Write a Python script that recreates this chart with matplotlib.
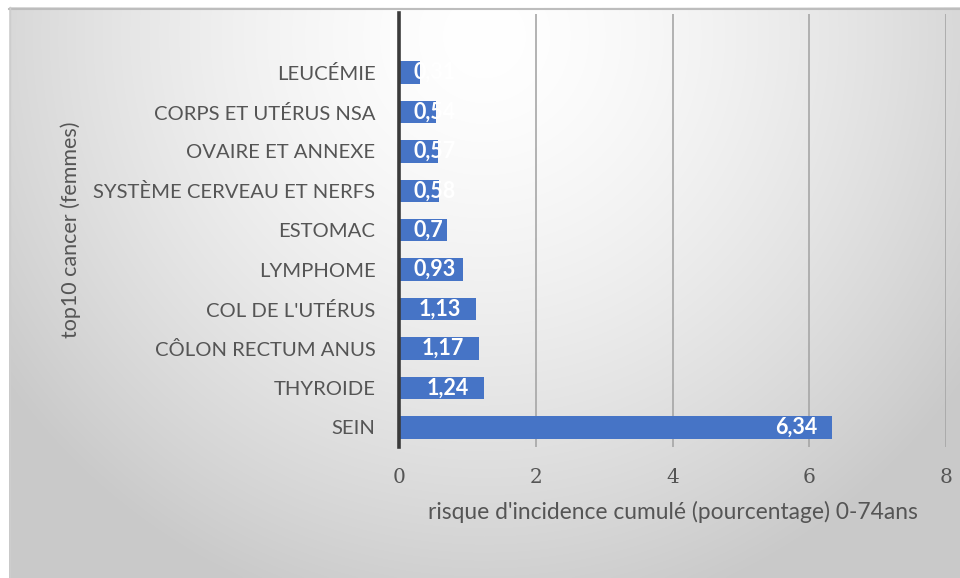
import numpy as np
import matplotlib
matplotlib.use("Agg")
import matplotlib.pyplot as plt

# Cumulative incidence risk (%) 0-74 years, top 10 cancers in women
categories = ["SEIN", "THYROIDE", "CÔLON RECTUM ANUS", "COL DE L'UTÉRUS", "LYMPHOME",
              "ESTOMAC", "SYSTÈME CERVEAU ET NERFS", "OVAIRE ET ANNEXE",
              "CORPS ET UTÉRUS NSA", "LEUCÉMIE"]
values = [6.34, 1.24, 1.17, 1.13, 0.93, 0.70, 0.58, 0.57, 0.54, 0.31]
value_labels = ["6,34", "1,24", "1,17", "1,13", "0,93", "0,7", "0,58", "0,57", "0,54", "0,31"]
xticks = [0, 2, 4, 6, 8]

W, H, DPI = 960, 578, 100
FONT = "Lato"
TEXT_COLOR = "#555555"
BAR_COLOR = "#4674C6"

fig = plt.figure(figsize=(W / DPI, H / DPI), dpi=DPI, facecolor="white")

# Chart area with a soft radial grey gradient (brightest near the top middle)
bg = fig.add_axes([9 / W, 0, 1 - 9 / W, 1 - 7 / H])
ny, nx = 300, 500
yy, xx = np.mgrid[0:1:ny * 1j, 0:1:nx * 1j]  # yy = 0 at the top row
r = np.sqrt(((xx - 0.50) / 0.62) ** 2 + ((yy - 0.05) / 1.05) ** 2)
shade = 1.0 - 0.21 * np.clip(r, 0, 1) ** 1.5
bg.imshow(np.dstack([shade] * 3), extent=[0, 1, 0, 1], origin="upper",
          aspect="auto", interpolation="bicubic")
bg.set_xlim(0, 1)
bg.set_ylim(0, 1)
bg.set_axis_off()
bg.plot([0, 1], [0.997, 0.997], color="#bdbdbd", lw=1.5, transform=bg.transAxes, clip_on=False)
bg.plot([0.001, 0.001], [0, 1], color="#cdcdcd", lw=1.0, transform=bg.transAxes, clip_on=False)

# Plot area
left, right = 399 / W, 946 / W
bottom, top = 1 - 447 / H, 1 - 13.5 / H
ax = fig.add_axes([left, bottom, right - left, top - bottom])
ax.set_facecolor("none")

y = np.arange(len(categories))
ax.barh(y, values, height=0.57, color=BAR_COLOR, zorder=2)
ax.set_xlim(0, 8)
ax.set_ylim(-0.5, len(categories) + 0.5)

ax.set_xticks(xticks)
ax.set_xticklabels([str(t) for t in xticks], fontfamily="DejaVu Serif", fontsize=14.5, color=TEXT_COLOR)
ax.set_yticks(y)
ax.set_yticklabels(categories, fontfamily=FONT, fontsize=14.6, color=TEXT_COLOR)
ax.tick_params(axis="both", length=0)
ax.tick_params(axis="y", pad=17)
ax.tick_params(axis="x", pad=15)

ax.grid(axis="x", color="#a6a6a6", lw=1.2, zorder=1)
for s in ["top", "right", "bottom"]:
    ax.spines[s].set_visible(False)
ax.spines["left"].set_color("#3a3a3a")
ax.spines["left"].set_linewidth(2.6)
ax.spines["left"].set_zorder(3)

ax.set_xlabel("risque d'incidence cumulé (pourcentage) 0-74ans", fontfamily=FONT,
              fontsize=16.4, color=TEXT_COLOR, labelpad=10)
ax.set_ylabel("top10 cancer (femmes)", fontfamily=FONT, fontsize=15.5, color=TEXT_COLOR, labelpad=9)

# Value labels: inside the bar end, pushed right when the bar is too short
fig.canvas.draw()
renderer = fig.canvas.get_renderer()
px = ax.transData.transform((1, 0))[0] - ax.transData.transform((0, 0))[0]
x0 = ax.transData.transform((0, 0))[0]
for yi, v, lab in zip(y, values, value_labels):
    t = ax.text(v - 15 / px, yi, lab, ha="right", va="center", color="white",
                fontweight="bold", fontfamily=FONT, fontsize=15.5, zorder=4)
    bb = t.get_window_extent(renderer)
    if bb.x0 < x0 + 14:
        t.set_ha("left")
        t.set_x(14 / px)

fig.savefig("out.png", dpi=DPI, facecolor="white")
